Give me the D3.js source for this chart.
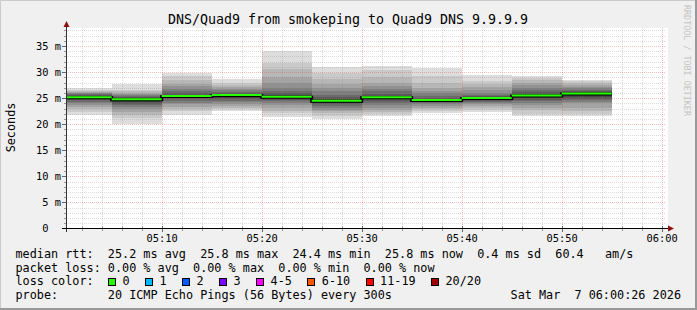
<!DOCTYPE html>
<html>
<head>
<meta charset="utf-8">
<script src="https://cdn.jsdelivr.net/npm/d3@7"></script>
<style>
  body { margin: 0; background: #f0f0f0; }
  svg text { font-family: "DejaVu Sans Mono", monospace; white-space: pre; }
</style>
</head>
<body>
<svg id="chart"></svg>
<script>
// ---- data ----
const title = "DNS/Quad9 from smokeping to Quad9 DNS 9.9.9.9"
const axisLabel = "Seconds"
const stepEnds = ["05:05", "05:10", "05:15", "05:20", "05:25", "05:30",
                  "05:35", "05:40", "05:45", "05:50", "05:55"]
// 20 sorted ping rtts (ms) per 5 minute step
const pings = [
  [21.7, 22.4, 22.9, 23.3, 23.6, 24.0, 24.3, 24.6, 24.9, 25.0, 25.2, 25.4, 25.6, 25.8, 25.9, 26.0, 26.2, 26.3, 26.5, 27.0],
  [20.1, 21.2, 21.8, 22.4, 22.9, 23.3, 23.6, 23.8, 24.2, 24.6, 24.8, 25.0, 25.2, 25.4, 25.6, 25.8, 26.0, 26.3, 26.6, 27.7],
  [21.8, 22.6, 23.0, 23.4, 23.8, 24.1, 24.5, 24.8, 25.0, 25.2, 25.4, 25.7, 26.0, 26.3, 26.8, 27.3, 27.8, 28.5, 29.2, 29.8],
  [22.5, 22.9, 23.2, 23.5, 23.9, 24.2, 24.5, 24.8, 25.1, 25.4, 25.6, 25.8, 26.0, 26.2, 26.5, 26.8, 27.2, 27.6, 28.0, 28.6],
  [21.3, 22.1, 22.6, 23.1, 23.6, 24.0, 24.4, 24.7, 25.0, 25.1, 25.3, 25.6, 26.0, 26.3, 27.0, 27.9, 29.0, 30.5, 31.8, 34.0],
  [21.0, 21.6, 22.1, 22.5, 22.8, 23.2, 23.5, 23.8, 24.1, 24.3, 24.5, 24.8, 25.2, 25.7, 26.3, 27.0, 27.8, 28.6, 29.8, 30.9],
  [21.5, 22.0, 22.4, 22.8, 23.1, 23.6, 24.0, 24.4, 24.8, 25.0, 25.2, 25.4, 25.8, 26.3, 26.8, 27.4, 27.9, 29.0, 30.4, 31.2],
  [22.1, 22.5, 22.9, 23.2, 23.5, 23.8, 24.0, 24.2, 24.4, 24.5, 24.6, 24.8, 25.0, 25.4, 25.9, 26.4, 26.9, 28.0, 29.3, 30.8],
  [22.3, 22.8, 23.2, 23.5, 23.8, 24.1, 24.3, 24.5, 24.7, 24.85, 25.0, 25.2, 25.4, 25.7, 26.0, 26.6, 27.2, 27.8, 28.2, 29.5],
  [21.5, 22.0, 22.75, 23.2, 23.7, 24.0, 24.4, 24.7, 25.0, 25.3, 25.5, 25.8, 26.1, 26.5, 27.0, 27.6, 28.0, 28.5, 28.9, 29.3],
  [21.5, 22.0, 22.6, 23.2, 24.0, 24.3, 24.6, 24.9, 25.3, 25.7, 25.9, 26.1, 26.3, 26.6, 26.9, 27.2, 27.5, 27.9, 28.2, 28.4]
]
const lossLabels = ["0", "1", "2", "3", "4-5", "6-10", "11-19", "20/20"]
const lossColors = ["#26ff00", "#00b8ff", "#0059ff", "#7e00ff", "#ff00ff", "#ff5500", "#ff0000", "#a10000"]
const rttStats = ["25.2 ms avg", "25.8 ms max", "24.4 ms min", "25.8 ms now", "0.4 ms sd", "60.4   am/s"]
const lossStats = ["0.00 % avg", "0.00 % max", "0.00 % min", "0.00 % now"]
const probeText = "20 ICMP Echo Pings (56 Bytes) every 300s"
const stamp = "Sat Mar  7 06:00:26 2026"
const watermark = "RRDTOOL / TOBI OETIKER"

// ---- setup ----
const W = 697, H = 310
const plot = {left: 66, right: 666, top: 28, bottom: 228.5}
const yMax = 38.46
const charW = 7.1
const legendX = 15.5

const svg = d3.select('#chart').attr('width', W).attr('height', H)

const at = s => { const [h, m] = s.split(':').map(Number); return new Date(2026, 2, 7, h, m, 0) }
const tStart = new Date(2026, 2, 7, 5, 0, 26)
const tEnd = new Date(2026, 2, 7, 6, 0, 26)

const x = d3.scaleTime().domain([tStart, tEnd]).range([plot.left, plot.right])
const y = d3.scaleLinear().domain([0, yMax]).range([plot.bottom, plot.top])

// background + frame
svg.append('rect').attr('width', W).attr('height', H).attr('fill', '#f0f0f0')
svg.append('path').attr('d', `M0.5,${H}V0.5H${W}`).attr('stroke', '#cbcbcb').attr('stroke-width', 1).attr('fill', 'none')
svg.append('path').attr('d', `M${W - 1},0V${H - 1}H0`).attr('stroke', '#999').attr('stroke-width', 2).attr('fill', 'none')

// canvas
svg.append('rect')
  .attr('x', plot.left).attr('y', plot.top)
  .attr('width', plot.right - plot.left + 2).attr('height', plot.bottom - plot.top)
  .attr('fill', '#fff')

// ---- smoke ----
const steps = stepEnds.map((e, i) => {
  const end = at(e)
  return {start: d3.timeMinute.offset(end, -5), end, p: pings[i], median: d3.median(pings[i])}
})

const smoke = svg.append('g').attr('shape-rendering', 'crispEdges')
const half = 10
steps.forEach(s => {
  const x0 = Math.max(x(s.start), plot.left), x1 = x(s.end)
  for (let k = 1; k <= half; k++) {
    const lo = s.p[k - 1], hi = s.p[20 - k]
    const c = Math.floor(190 / half * (half - k)) + 50
    smoke.append('rect')
      .attr('x', x0).attr('width', x1 - x0)
      .attr('y', y(hi)).attr('height', y(lo) - y(hi))
      .attr('fill', d3.rgb(c, c, c))
  }
})

// ---- grid ----
const grid = svg.append('g').attr('shape-rendering', 'crispEdges')
const minorY = d3.range(1, 39).filter(v => v % 5 !== 0)
const majorY = d3.range(5, 39, 5)
const minorX = d3.timeMinute.every(2).range(tStart, tEnd).filter(t => t.getMinutes() % 10 !== 0)
const majorX = d3.timeMinute.every(10).range(tStart, tEnd)
const minorCol = 'rgba(140,140,140,0.32)', majorCol = 'rgba(230,80,80,0.38)'

grid.selectAll('.hmin').data(minorY).join('line')
  .attr('x1', plot.left).attr('x2', plot.right)
  .attr('y1', d => Math.round(y(d)) + 0.5).attr('y2', d => Math.round(y(d)) + 0.5)
  .attr('stroke', minorCol).attr('stroke-dasharray', '1,1')
grid.selectAll('.vmin').data(minorX).join('line')
  .attr('x1', d => Math.round(x(d)) + 0.5).attr('x2', d => Math.round(x(d)) + 0.5)
  .attr('y1', plot.top).attr('y2', plot.bottom)
  .attr('stroke', minorCol).attr('stroke-dasharray', '1,1')
grid.selectAll('.hmaj').data(majorY).join('line')
  .attr('x1', plot.left).attr('x2', plot.right)
  .attr('y1', d => Math.round(y(d)) + 0.5).attr('y2', d => Math.round(y(d)) + 0.5)
  .attr('stroke', majorCol).attr('stroke-dasharray', '1,1')
grid.selectAll('.vmaj').data(majorX).join('line')
  .attr('x1', d => Math.round(x(d)) + 0.5).attr('x2', d => Math.round(x(d)) + 0.5)
  .attr('y1', plot.top).attr('y2', plot.bottom)
  .attr('stroke', majorCol).attr('stroke-dasharray', '1,1')

// axis ticks
grid.selectAll('.ytick').data(d3.range(1, 39)).join('line')
  .attr('x1', d => d % 5 ? 64 : 62).attr('x2', 66)
  .attr('y1', d => Math.round(y(d)) + 0.5).attr('y2', d => Math.round(y(d)) + 0.5)
  .attr('stroke', d => d % 5 ? '#999' : '#666')
grid.selectAll('.xtick').data(minorX.concat(majorX)).join('line')
  .attr('x1', d => Math.round(x(d)) + 0.5).attr('x2', d => Math.round(x(d)) + 0.5)
  .attr('y1', 226).attr('y2', d => d.getMinutes() % 10 ? 231 : 232)
  .attr('stroke', d => d.getMinutes() % 10 ? '#999' : '#666')

// ---- median line ----
const stepLine = d3.line().x(d => d[0]).y(d => d[1])
const medPts = []
steps.forEach(s => {
  const x0 = Math.max(x(s.start), plot.left), x1 = x(s.end)
  medPts.push([x0, y(s.median)], [x1, y(s.median)])
})
svg.append('path').attr('d', stepLine(medPts))
  .attr('fill', 'none').attr('stroke', '#000').attr('stroke-width', 3)
steps.forEach(s => {
  const x0 = Math.max(x(s.start), plot.left), x1 = x(s.end)
  svg.append('line')
    .attr('x1', x0).attr('x2', x1)
    .attr('y1', y(s.median) - 0.5).attr('y2', y(s.median) - 0.5)
    .attr('stroke', lossColors[0]).attr('stroke-width', 2)
})

// ---- axes ----
const axes = svg.append('g').attr('shape-rendering', 'crispEdges')
axes.append('line').attr('x1', 66.5).attr('x2', 66.5).attr('y1', 232).attr('y2', 26)
  .attr('stroke', '#333')
axes.append('line').attr('x1', 62).attr('x2', 668).attr('y1', 228.5).attr('y2', 228.5)
  .attr('stroke', '#000').attr('stroke-width', 1)
svg.append('path').attr('d', 'M63.5,27L69.5,27L66.5,21Z').attr('fill', '#8b1010')
svg.append('path').attr('d', 'M668,225.5L668,231.5L674,228.5Z').attr('fill', '#8b1010')

const yAxis = d3.axisLeft(y).tickValues(d3.range(0, 36, 5))
  .tickSize(0).tickPadding(5.5)
  .tickFormat(d => d ? `${d} m` : '0  ')
const yAxisG = svg.append('g').attr('transform', 'translate(66.5,0)').call(yAxis)
yAxisG.select('.domain').remove()
yAxisG.selectAll('text').attr('font-size', '10.4px').attr('fill', '#000')
  .attr('font-family', '"DejaVu Sans Mono", monospace')

const xAxis = d3.axisBottom(x).tickValues(majorX).tickSize(0).tickPadding(6)
  .tickFormat(d3.timeFormat('%H:%M'))
const xAxisG = svg.append('g').attr('transform', `translate(0,${plot.bottom})`).call(xAxis)
xAxisG.select('.domain').remove()
xAxisG.selectAll('text').attr('font-size', '10.4px').attr('fill', '#000')
  .attr('font-family', '"DejaVu Sans Mono", monospace')

// ---- titles ----
svg.append('text').attr('x', 348).attr('y', 23.5).attr('text-anchor', 'middle')
  .attr('font-size', '13.3px').attr('fill', '#000').text(title)
svg.append('text').attr('transform', 'translate(15,127.5) rotate(-90)').attr('text-anchor', 'middle')
  .attr('font-size', '11.8px').attr('fill', '#000').text(axisLabel)
svg.append('text').attr('transform', 'translate(684,5) rotate(90)')
  .attr('font-size', '8.4px').attr('fill', '#c4c4c4').text(watermark)

// ---- legend ----
const lineY = [258, 271.7, 285.4, 299]
const legend = svg.append('g').attr('font-size', '11.8px').attr('fill', '#000')
legend.append('text').attr('x', legendX).attr('y', lineY[0])
  .text('median rtt:'.padEnd(13) + rttStats.join('  '))
legend.append('text').attr('x', legendX).attr('y', lineY[1])
  .text('packet loss:'.padEnd(13) + lossStats.join('  '))
legend.append('text').attr('x', legendX).attr('y', lineY[2]).text('loss color:')
legend.append('text').attr('x', legendX).attr('y', lineY[3])
  .text('probe:'.padEnd(13) + probeText)
legend.append('text').attr('x', 681).attr('y', lineY[3]).attr('text-anchor', 'end').text(stamp)

let bx = 108
lossLabels.forEach((lab, i) => {
  legend.append('rect')
    .attr('x', Math.round(bx) + 0.5).attr('y', 278.5).attr('width', 7).attr('height', 7)
    .attr('fill', lossColors[i]).attr('stroke', '#000').attr('shape-rendering', 'crispEdges')
  legend.append('text').attr('x', bx + 14.6).attr('y', lineY[2]).text(lab)
  bx += 14.6 + charW * lab.length + 15.3
})
</script>
</body>
</html>
